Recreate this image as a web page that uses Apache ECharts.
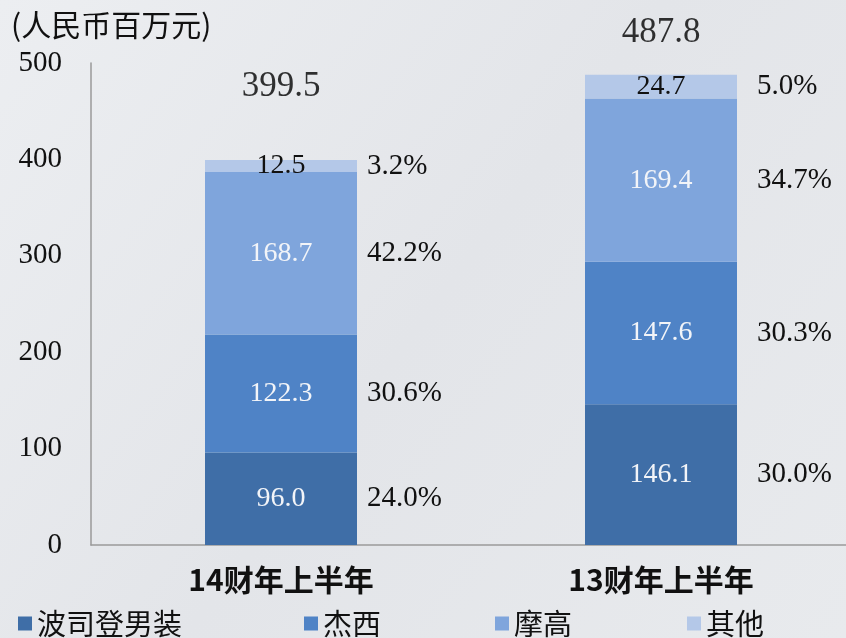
<!DOCTYPE html>
<html>
<head>
<meta charset="UTF-8">
<title>收入构成</title>
<script src="https://cdn.jsdelivr.net/npm/echarts@6/dist/echarts.min.js"></script>
<style>
  html, body { margin: 0; padding: 0; }
  #chart { width: 846px; height: 638px; }
</style>
</head>
<body>
<div id="chart"></div>
<script>
// 数据
var categories = ['14财年上半年', '13财年上半年'];
var brands = ['波司登男装', '杰西', '摩高', '其他'];
var bosideng = [96.0, 146.1];
var jessie = [122.3, 147.6];
var mogao = [168.7, 169.4];
var others = [12.5, 24.7];
var bosidengPct = ['24.0%', '30.0%'];
var jessiePct = ['30.6%', '30.3%'];
var mogaoPct = ['42.2%', '34.7%'];
var othersPct = ['3.2%', '5.0%'];
var totals = [399.5, 487.8];

var colors = ['#3f6ea7', '#4f83c6', '#7fa5dc', '#b4c8e8'];
var serif = '"Liberation Serif", "DejaVu Serif", serif';
var cjk = '"Noto Sans CJK SC", sans-serif';

var values = [bosideng, jessie, mogao, others];
var pcts = [bosidengPct, jessiePct, mogaoPct, othersPct];
var pctGap = [10, 20];
var totalGap = [56, 24];
var legendLeft = [18, 304, 495, 687];

var series = [];
brands.forEach(function (name, i) {
  series.push({
    name: name,
    type: 'bar',
    stack: 'v',
    barWidth: 152,
    itemStyle: { color: colors[i] },
    label: {
      show: true,
      position: 'inside',
      color: i === 3 ? '#111' : '#f2f4f8',
      fontFamily: serif,
      fontSize: 28,
      formatter: function (p) { return p.value.toFixed(1); }
    },
    data: values[i]
  });
});
brands.forEach(function (name, i) {
  series.push({
    name: name + '占比',
    type: 'bar',
    stack: 'p',
    barWidth: 152,
    barGap: '-100%',
    silent: true,
    itemStyle: { color: 'rgba(0,0,0,0)' },
    data: values[i].map(function (v, j) {
      return {
        value: v,
        label: {
          show: true,
          position: 'right',
          distance: pctGap[j],
          color: '#111',
          fontFamily: serif,
          fontSize: 29,
          formatter: pcts[i][j]
        }
      };
    })
  });
});
series.push({
  name: '合计',
  type: 'scatter',
  symbolSize: 0,
  itemStyle: { color: 'rgba(0,0,0,0)' },
  data: totals.map(function (v, j) {
    return {
      value: v,
      label: {
        show: true,
        position: 'top',
        distance: totalGap[j],
        color: '#000',
        fontFamily: serif,
        fontSize: 35,
        formatter: v.toFixed(1)
      }
    };
  })
});

// 图例：每项单独定位，模仿原图的制表位间距
var legends = brands.map(function (name, i) {
  return {
    data: [name],
    left: legendLeft[i],
    bottom: 0,
    padding: 0,
    icon: 'rect',
    itemWidth: 14,
    itemHeight: 14,
    itemGap: 0,
    textStyle: { fontFamily: cjk, fontSize: 29, color: '#111' }
  };
});

var option = {
  backgroundColor: {
    type: 'linear', x: 0, y: 0, x2: 1, y2: 1,
    colorStops: [
      { offset: 0, color: '#eceef1' },
      { offset: 0.5, color: '#e3e5e9' },
      { offset: 1, color: '#e8eaed' }
    ]
  },
  animation: false,
  title: {
    text: '(人民币百万元)',
    left: 6,
    top: 5,
    textStyle: { fontFamily: cjk, fontSize: 30, fontWeight: 'normal', color: '#111' }
  },
  legend: legends,
  grid: { left: 91, width: 760, top: 63, bottom: 93, outerBoundsMode: 'none' },
  xAxis: {
    type: 'category',
    data: categories,
    axisLine: { lineStyle: { color: '#9a9a9a', width: 1.5 } },
    axisTick: { show: false },
    axisLabel: {
      margin: 20,
      fontFamily: cjk,
      fontSize: 30,
      fontWeight: 'bold',
      color: '#111'
    }
  },
  yAxis: {
    type: 'value',
    min: 0,
    max: 500,
    interval: 100,
    axisLine: { show: true, lineStyle: { color: '#9a9a9a', width: 1.5 } },
    axisTick: { show: false },
    splitLine: { show: false },
    axisLabel: { margin: 29, fontFamily: serif, fontSize: 29, color: '#111' }
  },
  series: series
};

var chart = echarts.init(document.getElementById('chart'));
chart.setOption(option);
</script>
</body>
</html>
